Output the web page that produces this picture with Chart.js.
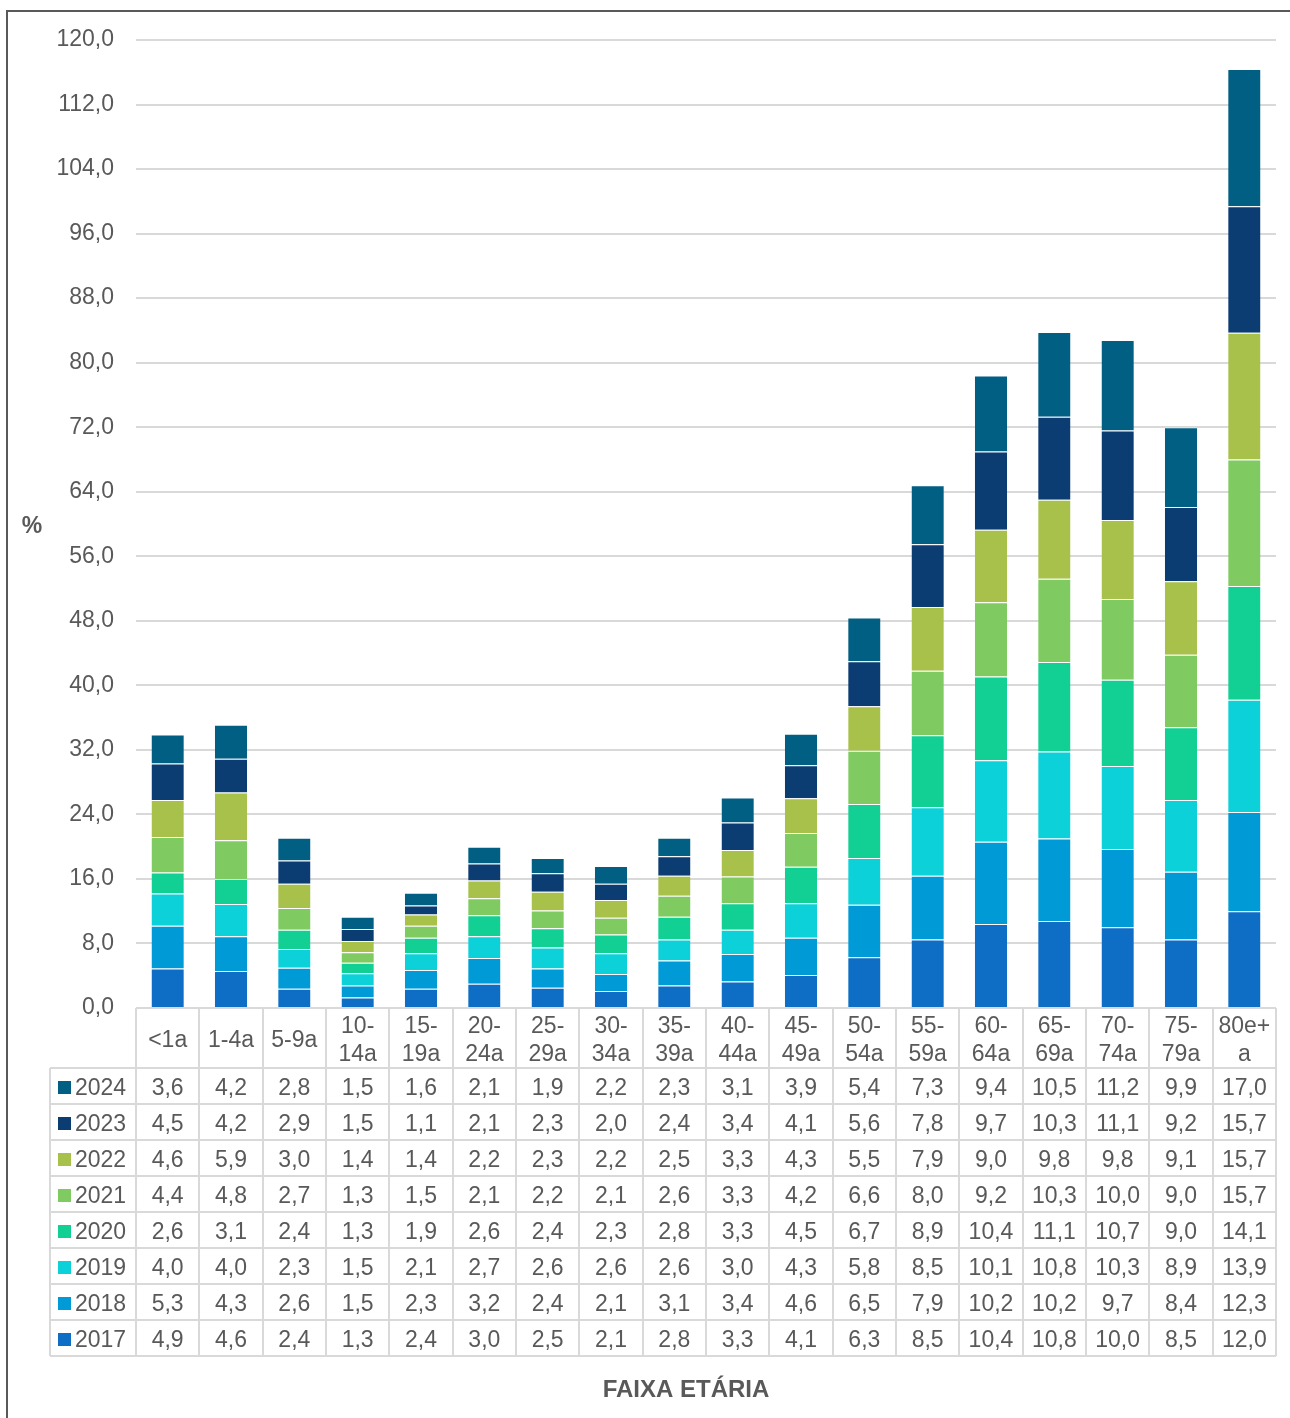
<!DOCTYPE html>
<html lang="pt">
<head>
<meta charset="utf-8">
<title>Faixa etária</title>
<script src="https://cdn.jsdelivr.net/npm/chart.js@4/dist/chart.umd.min.js"></script>
<style>
  html, body { margin: 0; padding: 0; background: #fff; }
  #wrap { position: relative; width: 1290px; height: 1418px; }
</style>
</head>
<body>
<div id="wrap"><canvas id="chart"></canvas></div>
<script>
// Age groups (multi-line header labels)
const categories = [
  ['<1a'], ['1-4a'], ['5-9a'], ['10-', '14a'], ['15-', '19a'], ['20-', '24a'],
  ['25-', '29a'], ['30-', '34a'], ['35-', '39a'], ['40-', '44a'], ['45-', '49a'],
  ['50-', '54a'], ['55-', '59a'], ['60-', '64a'], ['65-', '69a'], ['70-', '74a'],
  ['75-', '79a'], ['80e+', 'a']
];

const years = ['2017', '2018', '2019', '2020', '2021', '2022', '2023', '2024'];

const v2017 = [4.9, 4.6, 2.4, 1.3, 2.4, 3.0, 2.5, 2.1, 2.8, 3.3, 4.1, 6.3, 8.5, 10.4, 10.8, 10.0, 8.5, 12.0];
const v2018 = [5.3, 4.3, 2.6, 1.5, 2.3, 3.2, 2.4, 2.1, 3.1, 3.4, 4.6, 6.5, 7.9, 10.2, 10.2, 9.7, 8.4, 12.3];
const v2019 = [4.0, 4.0, 2.3, 1.5, 2.1, 2.7, 2.6, 2.6, 2.6, 3.0, 4.3, 5.8, 8.5, 10.1, 10.8, 10.3, 8.9, 13.9];
const v2020 = [2.6, 3.1, 2.4, 1.3, 1.9, 2.6, 2.4, 2.3, 2.8, 3.3, 4.5, 6.7, 8.9, 10.4, 11.1, 10.7, 9.0, 14.1];
const v2021 = [4.4, 4.8, 2.7, 1.3, 1.5, 2.1, 2.2, 2.1, 2.6, 3.3, 4.2, 6.6, 8.0, 9.2, 10.3, 10.0, 9.0, 15.7];
const v2022 = [4.6, 5.9, 3.0, 1.4, 1.4, 2.2, 2.3, 2.2, 2.5, 3.3, 4.3, 5.5, 7.9, 9.0, 9.8, 9.8, 9.1, 15.7];
const v2023 = [4.5, 4.2, 2.9, 1.5, 1.1, 2.1, 2.3, 2.0, 2.4, 3.4, 4.1, 5.6, 7.8, 9.7, 10.3, 11.1, 9.2, 15.7];
const v2024 = [3.6, 4.2, 2.8, 1.5, 1.6, 2.1, 1.9, 2.2, 2.3, 3.1, 3.9, 5.4, 7.3, 9.4, 10.5, 11.2, 9.9, 17.0];

const yTicks = [0, 8, 16, 24, 32, 40, 48, 56, 64, 72, 80, 88, 96, 104, 112, 120];

const seriesValues = [v2017, v2018, v2019, v2020, v2021, v2022, v2023, v2024];
const seriesColors = ['#0e6dc5', '#009bd6', '#0dd1d9', '#12cf94', '#7fcb62', '#a8c14a', '#0b3c72', '#005f82'];

const FONT = '"Liberation Sans", Arial, sans-serif';
const TEXT = '#595959';
const LINE = '#d9d9d9';

const fmt = v => v.toFixed(1).replace('.', ',');

// Data table under the plot, aligned on the category scale
const dataTable = {
  id: 'dataTable',
  beforeDraw(chart) {
    const ctx = chart.ctx;
    ctx.save();
    ctx.strokeStyle = '#595959';
    ctx.lineWidth = 2;
    ctx.beginPath();
    ctx.moveTo(7, chart.height);
    ctx.lineTo(7, 11);
    ctx.lineTo(chart.width, 11);
    ctx.stroke();
    ctx.restore();
  },
  afterDraw(chart) {
    const ctx = chart.ctx;
    const area = chart.chartArea;
    const xs = chart.scales.x;
    const n = categories.length;
    const colW = (area.right - area.left) / n;
    const top = area.bottom;
    const headH = 60;
    const rowH = 36;
    const legendLeft = 50;
    const bottom = top + headH + rowH * years.length;

    ctx.save();
    ctx.strokeStyle = LINE;
    ctx.lineWidth = 2;
    ctx.beginPath();
    for (let i = 0; i <= n; i++) {
      const x = Math.round(area.left + i * colW);
      ctx.moveTo(x, top);
      ctx.lineTo(x, bottom);
    }
    ctx.moveTo(legendLeft, top + headH);
    ctx.lineTo(legendLeft, bottom);
    ctx.moveTo(area.left, top);
    ctx.lineTo(area.right, top);
    for (let r = 0; r <= years.length; r++) {
      const y = Math.round(top + headH + r * rowH);
      ctx.moveTo(legendLeft, y);
      ctx.lineTo(area.right, y);
    }
    ctx.stroke();

    ctx.fillStyle = TEXT;
    ctx.font = '23px ' + FONT;
    ctx.textAlign = 'center';
    ctx.textBaseline = 'middle';

    // header
    categories.forEach((lab, i) => {
      const cx = xs.getPixelForValue(i);
      if (lab.length === 1) {
        ctx.fillText(lab[0], cx, top + headH / 2 + 3);
      } else {
        ctx.fillText(lab[0], cx, top + 19);
        ctx.fillText(lab[1], cx, top + 47);
      }
    });

    // rows, newest year first
    for (let r = 0; r < years.length; r++) {
      const s = years.length - 1 - r;
      const cy = top + headH + r * rowH + rowH / 2 + 3;
      ctx.fillStyle = seriesColors[s];
      ctx.fillRect(58, cy - 8, 13, 13);
      ctx.fillStyle = TEXT;
      ctx.textAlign = 'left';
      ctx.fillText(years[s], 75, cy);
      ctx.textAlign = 'center';
      seriesValues[s].forEach((v, i) => {
        ctx.fillText(fmt(v), xs.getPixelForValue(i), cy);
      });
    }

    // axis titles
    ctx.font = 'bold 23px ' + FONT;
    ctx.fillText('%', 32, 527);
    ctx.font = 'bold 24px ' + FONT;
    ctx.fillText('FAIXA ETÁRIA', 686, 1390);
    ctx.restore();
  }
};

new Chart(document.getElementById('chart'), {
  type: 'bar',
  data: {
    labels: categories,
    datasets: years.map((y, s) => ({
      label: y,
      data: seriesValues[s],
      backgroundColor: seriesColors[s],
      borderColor: 'rgba(255,255,255,0.35)',
      borderWidth: { top: 1, left: 0, right: 0, bottom: 0 },
      borderSkipped: false,
      barPercentage: 0.51,
      categoryPercentage: 1
    }))
  },
  options: {
    responsive: true,
    maintainAspectRatio: false,
    animation: false,
    layout: { padding: { top: 40, right: 14, left: 0, bottom: 410 } },
    plugins: { legend: { display: false }, tooltip: { enabled: false } },
    scales: {
      x: {
        stacked: true,
        display: false
      },
      y: {
        stacked: true,
        min: 0,
        max: 120,
        afterBuildTicks(scale) {
          scale.ticks = yTicks.map(v => ({ value: v }));
        },
        afterFit(scale) { scale.width = 136; },
        border: { display: false },
        grid: { color: LINE, lineWidth: 2, drawTicks: false },
        ticks: {
          padding: 22,
          color: TEXT,
          font: { family: FONT, size: 23 },
          callback: v => fmt(v)
        }
      }
    }
  },
  plugins: [dataTable]
});
</script>
</body>
</html>
